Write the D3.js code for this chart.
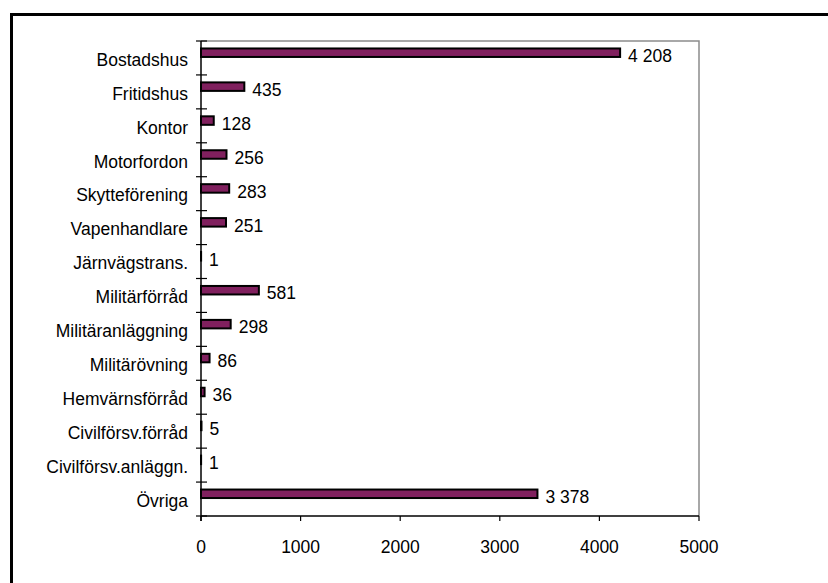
<!DOCTYPE html>
<html>
<head>
<meta charset="utf-8">
<script src="https://cdn.jsdelivr.net/npm/d3@7"></script>
<style>
  html, body { margin: 0; padding: 0; background: #fff; }
  svg { display: block; font-family: "Liberation Sans", Arial, sans-serif; }
</style>
</head>
<body>
<svg id="chart" width="828" height="583"></svg>
<script>
const categories = ["Bostadshus", "Fritidshus", "Kontor", "Motorfordon", "Skytteförening",
  "Vapenhandlare", "Järnvägstrans.", "Militärförråd", "Militäranläggning", "Militärövning",
  "Hemvärnsförråd", "Civilförsv.förråd", "Civilförsv.anläggn.", "Övriga"];
const values = [4208, 435, 128, 256, 283, 251, 1, 581, 298, 86, 36, 5, 1, 3378];
const xTicks = [0, 1000, 2000, 3000, 4000, 5000];

(function () {
const svg = d3.select("#chart");
const pL = 201, pR = 699, pT = 41, pB = 516;
const fs = 17.5;

const x = d3.scaleLinear().domain([0, 5000]).range([pL, pR]);
const y = d3.scaleBand().domain(categories).range([pT, pB]).padding(0);

// outer frame (top & left visible)
svg.append("path")
  .attr("d", `M11.5,583 L11.5,14.5 L828,14.5`)
  .attr("fill", "none").attr("stroke", "#000").attr("stroke-width", 3);

// plot area border (top & right, gray)
svg.append("path")
  .attr("d", `M${pL},${pT} L${pR},${pT} L${pR},${pB}`)
  .attr("fill", "none").attr("stroke", "#8c8c8c").attr("stroke-width", 1.5);

// bars
const bw = y.bandwidth();
svg.append("g").selectAll("rect").data(values).join("rect")
  .attr("x", x(0))
  .attr("y", (d, i) => y(categories[i]) + bw / 2 - 9.5)
  .attr("width", d => Math.max(0, x(d) - x(0)))
  .attr("height", 8.5)
  .attr("fill", "#80205e")
  .attr("stroke", "#000")
  .attr("stroke-width", 2);

// value labels
const fmt = v => d3.format(",")(v).replace(/,/g, " ");
svg.append("g").selectAll("text").data(values).join("text")
  .attr("x", d => x(d) + 8)
  .attr("y", (d, i) => y(categories[i]) + bw / 2 + 4)
  .attr("font-size", fs)
  .attr("fill", "#000")
  .text(d => fmt(d));

// y axis
const yAxis = svg.append("g");
yAxis.append("line").attr("x1", pL).attr("x2", pL).attr("y1", pT).attr("y2", pB + 5)
  .attr("stroke", "#000").attr("stroke-width", 1.5);
const boundaries = categories.map(c => y(c)).concat([pB]);
yAxis.selectAll("line.tick").data(boundaries).join("line").attr("class", "tick")
  .attr("x1", pL - 5).attr("x2", pL + 6)
  .attr("y1", d => d).attr("y2", d => d)
  .attr("stroke", "#000").attr("stroke-width", 1.2);
yAxis.selectAll("text").data(categories).join("text")
  .attr("x", 188)
  .attr("y", d => y(d) + bw / 2 + 7.8)
  .attr("text-anchor", "end")
  .attr("font-size", fs)
  .attr("fill", "#000")
  .text(d => d);

// x axis
const xAxis = svg.append("g");
xAxis.append("line").attr("x1", pL).attr("x2", pR).attr("y1", pB).attr("y2", pB)
  .attr("stroke", "#000").attr("stroke-width", 1.5);
xAxis.selectAll("line.tick").data(xTicks).join("line").attr("class", "tick")
  .attr("x1", d => x(d)).attr("x2", d => x(d))
  .attr("y1", pB).attr("y2", pB + 5)
  .attr("stroke", "#000").attr("stroke-width", 1.2);
xAxis.selectAll("text").data(xTicks).join("text")
  .attr("x", d => x(d))
  .attr("y", 553)
  .attr("text-anchor", "middle")
  .attr("font-size", fs)
  .attr("fill", "#000")
  .text(d => d);
})();
</script>
</body>
</html>
